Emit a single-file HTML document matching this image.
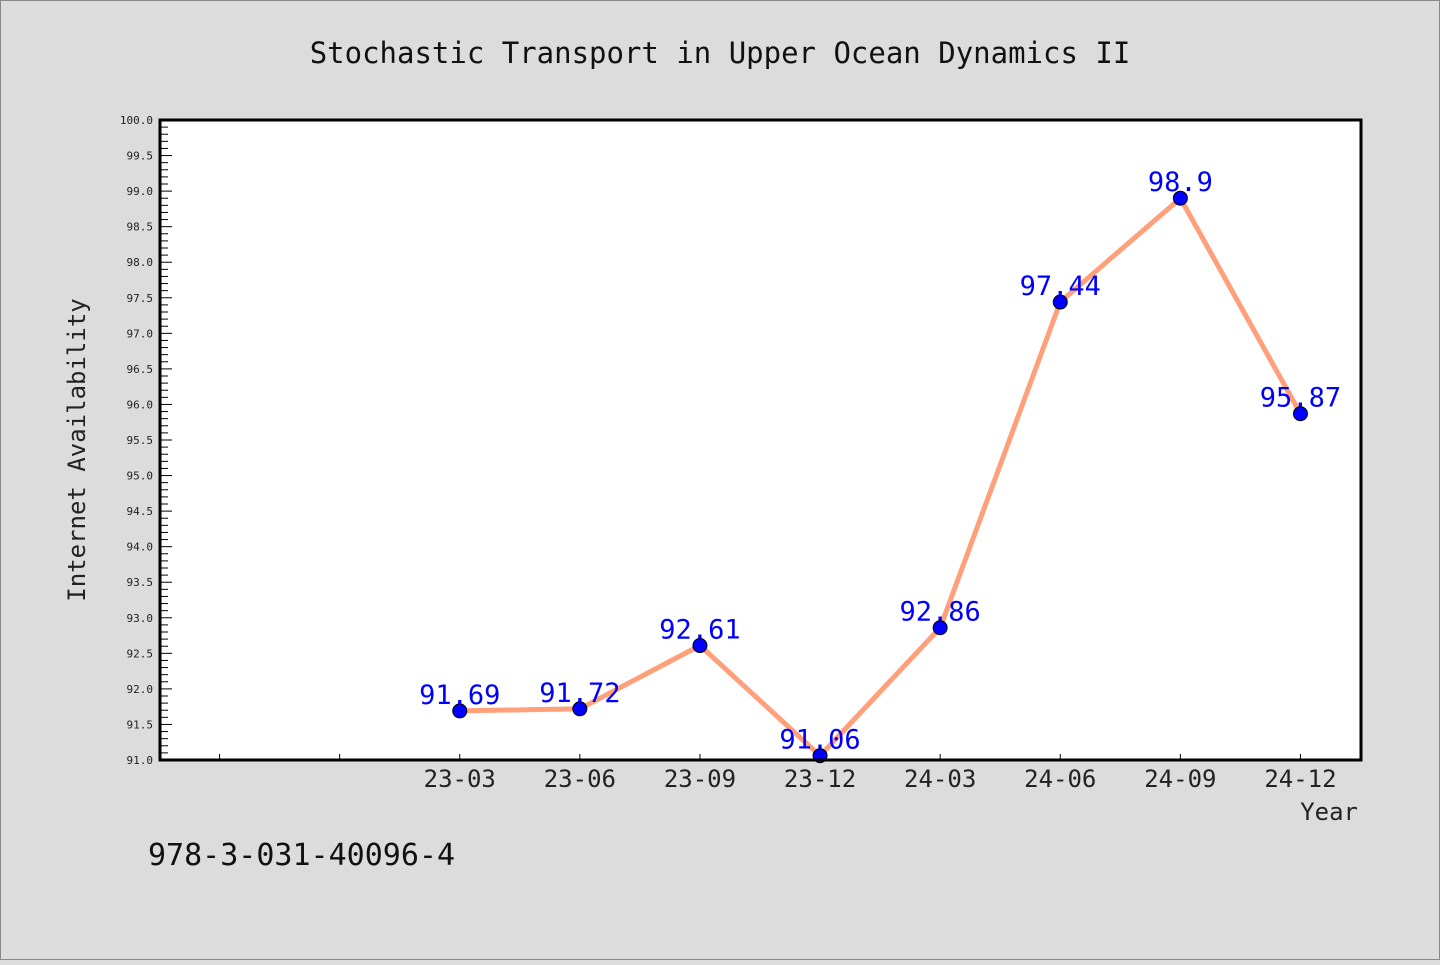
<!DOCTYPE html>
<html><head><meta charset="utf-8"><style>
html,body{margin:0;padding:0;background:#dcdcdc;}
svg text{font-family:"WenQuanYi Zen Hei","DejaVu Sans Mono",monospace;}
</style></head><body>
<svg width="1440" height="960" xmlns="http://www.w3.org/2000/svg">
<rect x="0.5" y="0.5" width="1439" height="959" fill="#dcdcdc" stroke="#888"/>
<text x="720" y="63" font-size="29" text-anchor="middle" fill="#111">Stochastic Transport in Upper Ocean Dynamics II</text>
<rect x="160" y="120" width="1201" height="640" fill="#fff"/>
<g id="yaxis"></g>
<g id="xaxis"></g>
<g id="series"></g>
<rect x="160" y="120" width="1201" height="640" fill="none" stroke="#000" stroke-width="3"/>
<text transform="translate(85,450) rotate(-90)" font-size="24" text-anchor="middle" fill="#222">Internet Availability</text>
<text x="1358" y="820" font-size="24" text-anchor="end" fill="#222">Year</text>
<text x="148" y="865" font-size="30" fill="#111">978-3-031-40096-4</text>
</svg>
<script>
const categories = ["", "", "23-03", "23-06", "23-09", "23-12", "24-03", "24-06", "24-09", "24-12"];
const values = [null, null, 91.69, 91.72, 92.61, 91.06, 92.86, 97.44, 98.9, 95.87];
const labels = ["", "", "91.69", "91.72", "92.61", "91.06", "92.86", "97.44", "98.9", "95.87"];
const yMin = 91, yMax = 100;
const NS = "http://www.w3.org/2000/svg";
const L = 160, R = 1361, T = 120, B = 760;
const step = (R - L) / categories.length;
function x(i){ return L + step/2 + step*i - 0.5; }
function y(v){ return B - (v - yMin) / (yMax - yMin) * (B - T); }
function mk(tag, attrs, parent){ const e=document.createElementNS(NS,tag); for(const k in attrs) e.setAttribute(k,attrs[k]); parent.appendChild(e); return e; }
const ya=document.getElementById('yaxis'), xa=document.getElementById('xaxis'), sg=document.getElementById('series');
for(let k=0;k<=90;k++){
  const v=yMin+k*0.1, yy=y(v), major=k%5===0;
  const t=mk('line',{x1:L,x2:L+(major?12:8),y1:yy,y2:yy,stroke:'#000','stroke-width':1},ya);
  
  
  if(major){
    const tx=mk('text',{x:L-7,y:yy+4,'font-size':11,'text-anchor':'end',fill:'#222'},ya);
    
    
    tx.textContent=v.toFixed(1);
  }
}
categories.forEach((c,i)=>{
  const t=mk('line',{x1:x(i),x2:x(i),y1:B,y2:B-6,stroke:'#000','stroke-width':1},xa);
  
  
  if(c){
    const tx=mk('text',{x:x(i),y:B+27,'font-size':24,'text-anchor':'middle',fill:'#222'},xa);
    
    
    tx.textContent=c;
  }
});
const pts=[]; values.forEach((v,i)=>{ if(v!==null) pts.push([x(i),y(v),i]); });
const line=mk('polyline',{points:pts.map(p=>p[0]+','+p[1]).join(' '),fill:'none',stroke:'#ffa07a','stroke-width':5,'stroke-linejoin':'round'},sg);


pts.forEach(p=>{
  const c=mk('circle',{cx:p[0],cy:p[1],r:7,fill:'#0000ff',stroke:'#000','stroke-width':1},sg);
  
  
});
pts.forEach(p=>{
  const t=mk('text',{x:p[0],y:p[1]-7,'font-size':27,'text-anchor':'middle',fill:'#0000ff'},sg);
  
  
  t.textContent=labels[p[2]];
});
</script>
</body></html>
